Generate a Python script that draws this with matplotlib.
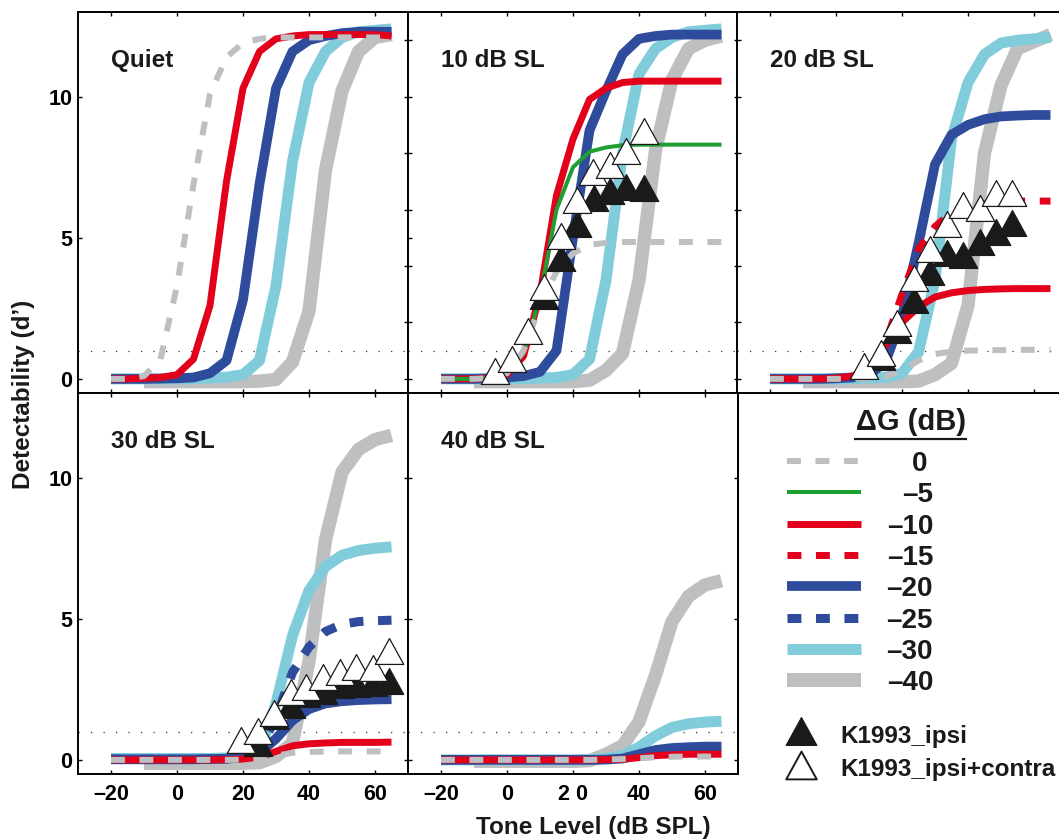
import matplotlib
matplotlib.use('Agg')
import matplotlib.pyplot as plt
from matplotlib.path import Path

plt.rcParams['font.family'] = ['Liberation Sans', 'DejaVu Sans']
plt.rcParams['font.weight'] = 'bold'

# ---------------- data ----------------
LEVELS = [-20, -15, -10, -5, 0, 5, 10, 15, 20, 25, 30, 35, 40, 45, 50, 55, 60, 65]
LEVELS_40 = [-10, -5, 0, 5, 10, 15, 20, 25, 30, 35, 40, 45, 50, 55, 60, 65]

# Quiet
quiet_dG0 = [0, 0, 0.1, 0.7, 3.3, 6.9, 10.1, 11.4, 11.9, 12.05, 12.1, 12.1, 12.1, 12.1, 12.1, 12.1, 12.1, 12.1]
quiet_dG10 = [0, 0, 0.02, 0.05, 0.15, 0.7, 2.6, 7.0, 10.3, 11.6, 12.05, 12.15, 12.2, 12.2, 12.2, 12.2, 12.2, 12.15]
quiet_dG20 = [0, 0, 0, 0.01, 0.02, 0.05, 0.2, 0.65, 2.8, 6.9, 10.3, 11.6, 12.0, 12.15, 12.25, 12.3, 12.3, 12.3]
quiet_dG30 = [0, 0, 0, 0, 0, 0.01, 0.03, 0.06, 0.15, 0.65, 3.3, 7.7, 10.5, 11.6, 12.1, 12.3, 12.35, 12.4]
quiet_dG40 = [-0.1, -0.1, -0.1, -0.1, -0.1, -0.1, -0.1, -0.08, -0.02, 0.6, 2.4, 7.4, 10.2, 11.6, 12.1, 12.2]

# 10 dB SL
sl10_dG0 = [0, 0, 0, 0.03, 0.2, 1.0, 2.6, 3.8, 4.45, 4.75, 4.82, 4.85, 4.85, 4.85, 4.85, 4.85, 4.85, 4.85]
sl10_dG5 = [0, 0, 0, 0.03, 0.2, 0.9, 2.9, 6.0, 7.5, 8.05, 8.2, 8.28, 8.3, 8.3, 8.3, 8.3, 8.3, 8.3]
sl10_dG10 = [0, 0, 0, 0.03, 0.15, 0.8, 3.0, 6.5, 8.5, 9.9, 10.3, 10.5, 10.55, 10.55, 10.55, 10.55, 10.55, 10.55]
sl10_dG20 = [0, 0, 0, 0.02, 0.05, 0.1, 0.25, 1.0, 5.0, 8.8, 10.2, 11.5, 12.05, 12.15, 12.2, 12.2, 12.2, 12.2]
sl10_dG30 = [0, 0, 0, 0, 0, 0.01, 0.03, 0.05, 0.15, 0.7, 3.5, 8.0, 10.8, 11.7, 12.1, 12.3, 12.35, 12.4]
sl10_dG40 = [-0.1, -0.1, -0.1, -0.1, -0.1, -0.1, -0.1, -0.05, 0.3, 0.9, 3.5, 8.1, 10.6, 11.7, 12.0, 12.15]
sl10_ipsi_x = [11.2, 16.3, 21.3, 26.3, 31.3, 36.2, 41.4]
sl10_ipsi_y = [2.95, 4.3, 5.5, 6.4, 6.65, 6.8, 6.75]
sl10_both_x = [-3.6, 1.6, 6.3, 11.2, 16.3, 21.3, 26.2, 31.3, 36.2, 41.4]
sl10_both_y = [0.29, 0.71, 1.71, 3.24, 5.08, 6.33, 7.32, 7.57, 8.09, 8.8]

# 20 dB SL
sl20_dG0 = [0, 0, 0, 0, 0, 0, 0.02, 0.08, 0.3, 0.65, 0.88, 0.97, 1.0, 1.02, 1.02, 1.03, 1.03, 1.03]
sl20_dG10 = [0, 0, 0, 0, 0.02, 0.1, 0.35, 1.2, 2.0, 2.55, 2.9, 3.05, 3.13, 3.17, 3.19, 3.2, 3.2, 3.2]
sl20_dG15 = [0, 0, 0, 0, 0.02, 0.1, 0.35, 1.3, 3.0, 4.6, 5.4, 5.9, 6.1, 6.2, 6.25, 6.3, 6.3, 6.3]
sl20_dG20 = [0, 0, 0, 0, 0.02, 0.05, 0.15, 0.6, 2.2, 4.8, 7.6, 8.65, 9.0, 9.2, 9.3, 9.33, 9.35, 9.35]
sl20_dG30 = [0, 0, 0, 0, 0, 0.01, 0.03, 0.05, 0.2, 0.95, 3.5, 8.5, 10.5, 11.5, 11.9, 12.0, 12.05, 12.1]
sl20_dG40 = [-0.1, -0.1, -0.1, -0.1, -0.1, -0.1, -0.1, -0.08, 0.15, 0.55, 2.6, 8.0, 10.4, 11.7, 11.95, 12.2]
sl20_ipsi_x = [13.5, 18.6, 23.5, 28.6, 33.5, 38.5, 43.6, 48.5, 53.4]
sl20_ipsi_y = [0.77, 1.75, 2.8, 3.8, 4.47, 4.39, 4.85, 5.21, 5.51]
sl20_both_x = [8.4, 13.5, 18.6, 23.5, 28.6, 33.5, 38.5, 43.6, 48.5, 53.4]
sl20_both_y = [0.44, 0.91, 1.97, 3.57, 4.61, 5.48, 6.17, 6.04, 6.59, 6.59]

# 30 dB SL
sl30_dG0 = [0, 0, 0, 0, 0, 0, 0, 0, 0.01, 0.05, 0.15, 0.25, 0.28, 0.3, 0.3, 0.3, 0.3, 0.3]
sl30_dG10 = [0, 0, 0, 0, 0, 0, 0, 0.01, 0.03, 0.1, 0.3, 0.5, 0.57, 0.6, 0.62, 0.62, 0.62, 0.63]
sl30_dG20 = [0.02, 0.02, 0.02, 0.02, 0.02, 0.02, 0.03, 0.04, 0.1, 0.25, 0.75, 1.4, 1.8, 2.0, 2.08, 2.12, 2.14, 2.15]
sl30_dG25 = [0.02, 0.02, 0.02, 0.02, 0.02, 0.02, 0.03, 0.04, 0.1, 0.35, 1.5, 3.1, 4.0, 4.55, 4.8, 4.9, 4.93, 4.95]
sl30_dG30 = [0.05, 0.05, 0.05, 0.05, 0.05, 0.05, 0.05, 0.07, 0.12, 0.3, 2.0, 4.4, 6.0, 6.85, 7.25, 7.42, 7.5, 7.55]
sl30_dG40 = [-0.12, -0.12, -0.12, -0.12, -0.12, -0.12, -0.12, -0.1, 0.12, 0.6, 3.5, 7.8, 10.2, 11.0, 11.35, 11.5]
sl30_ipsi_x = [24.4, 29.5, 34.4, 39.2, 44.3, 49.5, 54.2, 59.5, 64.2]
sl30_ipsi_y = [0.6, 1.55, 1.95, 2.35, 2.45, 2.65, 2.7, 2.72, 2.8]
sl30_both_x = [19.5, 24.4, 29.5, 34.4, 39.2, 44.3, 49.5, 54.2, 59.5, 64.2]
sl30_both_y = [0.71, 1.03, 1.65, 2.42, 2.6, 2.95, 3.13, 3.3, 3.26, 3.86]

# 40 dB SL
sl40_dG0 = [0, 0, 0, 0, 0, 0, 0, 0, 0, 0, 0.01, 0.03, 0.06, 0.09, 0.11, 0.12, 0.12, 0.12]
sl40_dG10 = [0, 0, 0, 0, 0, 0, 0, 0, 0, 0, 0.01, 0.02, 0.08, 0.15, 0.18, 0.2, 0.2, 0.2]
sl40_dG20 = [0, 0, 0, 0, 0, 0, 0, 0, 0, 0, 0.01, 0.05, 0.2, 0.35, 0.42, 0.45, 0.47, 0.47]
sl40_dG30 = [0, 0, 0, 0, 0, 0, 0, 0, 0, 0.01, 0.05, 0.15, 0.45, 0.85, 1.15, 1.28, 1.34, 1.37]
sl40_dG40 = [-0.05, -0.05, -0.05, -0.05, -0.05, -0.05, -0.05, -0.03, 0.2, 0.5, 1.35, 3.0, 4.9, 5.8, 6.2, 6.35]

PANEL_TITLES = ['Quiet', '10 dB SL', '20 dB SL', '30 dB SL', '40 dB SL']
GAINS = ['0', '-5', '-10', '-15', '-20', '-25', '-30', '-40']
GAIN_LABELS = ['0', '\u20135', '\u201310', '\u201315', '\u201320', '\u201325', '\u201330', '\u201340']
XTICKS = [-20, 0, 20, 40, 60]
XTICKLABELS = ['\u201320', '0', '20', '40', '60']
XTICKLABELS_MID = ['\u201320', '0', '2 0', '40', '60']
YTICKS = [0, 5, 10]
YTICKS_MINOR = [0, 2, 4, 6, 8, 10, 12]
CRIT = 1.0

panels = [
    {'0': quiet_dG0, '-10': quiet_dG10, '-20': quiet_dG20, '-30': quiet_dG30, '-40': quiet_dG40},
    {'0': sl10_dG0, '-5': sl10_dG5, '-10': sl10_dG10, '-20': sl10_dG20, '-30': sl10_dG30, '-40': sl10_dG40},
    {'0': sl20_dG0, '-10': sl20_dG10, '-15': sl20_dG15, '-20': sl20_dG20, '-30': sl20_dG30, '-40': sl20_dG40},
    {'0': sl30_dG0, '-10': sl30_dG10, '-20': sl30_dG20, '-25': sl30_dG25, '-30': sl30_dG30, '-40': sl30_dG40},
    {'0': sl40_dG0, '-10': sl40_dG10, '-20': sl40_dG20, '-30': sl40_dG30, '-40': sl40_dG40},
]
markers = [
    None,
    (sl10_ipsi_x, sl10_ipsi_y, sl10_both_x, sl10_both_y),
    (sl20_ipsi_x, sl20_ipsi_y, sl20_both_x, sl20_both_y),
    (sl30_ipsi_x, sl30_ipsi_y, sl30_both_x, sl30_both_y),
    None,
]

# ---------------- styles ----------------
GRAY = '#BEBFC1'
GREEN = '#1F9E34'
RED = '#E2001A'
BLUE = '#2F4B9B'
CYAN = '#80CCDB'
BLACK = '#1A1A1A'

def dashed(on, off, lw):
    return (0, (on / lw, off / lw))

STYLE = {
    '0': dict(color=GRAY, lw=4.3, ls=dashed(10, 10.5, 4.3)),
    '-5': dict(color=GREEN, lw=2.9, ls='-'),
    '-10': dict(color=RED, lw=5.0, ls='-'),
    '-15': dict(color=RED, lw=5.0, ls=dashed(10, 10.5, 5.0)),
    '-20': dict(color=BLUE, lw=7.0, ls='-'),
    '-25': dict(color=BLUE, lw=6.5, ls=dashed(10, 10.5, 6.5)),
    '-30': dict(color=CYAN, lw=7.9, ls='-'),
    '-40': dict(color=GRAY, lw=9.6, ls='-'),
}
DRAW_ORDER = ['-40', '-30', '-20', '-25', '-10', '-15', '-5', '0']
TRI = Path([(0, 1), (-1.1, -1), (1.1, -1), (0, 1)],
           [Path.MOVETO, Path.LINETO, Path.LINETO, Path.CLOSEPOLY])
MS = 20.5

W, H = 1059, 839
fig = plt.figure(figsize=(W / 100, H / 100), dpi=100)

def rect(x0, ytop, w, h):
    return [x0 / W, 1 - (ytop + h) / H, w / W, h / H]

COL_X = [78, 408, 737]
ROW_Y = [12, 393]
PW, PH = 330, 381

positions = [(0, 0), (0, 1), (0, 2), (1, 0), (1, 1)]
left_ticks = [YTICKS, [0, 2, 4, 5, 6, 8, 10, 12], YTICKS_MINOR, YTICKS, YTICKS]
right_ticks = [YTICKS_MINOR, YTICKS_MINOR, [], YTICKS, YTICKS]

for i, (r, c) in enumerate(positions):
    ax = fig.add_axes(rect(COL_X[c], ROW_Y[r], PW, PH))
    ax.set_xlim(-30, 70)
    ax.set_ylim(-0.5, 13)
    ax.axhline(CRIT, color='#333333', lw=0.9, ls=(0, (1, 9)), zorder=1)
    data = panels[i]
    for g in DRAW_ORDER:
        if g in data:
            st = STYLE[g]
            xs = LEVELS_40 if g == '-40' else LEVELS
            ax.plot(xs, data[g], color=st['color'], lw=st['lw'], ls=st['ls'],
                    solid_capstyle='butt', dash_capstyle='butt',
                    solid_joinstyle='round', zorder=2)
    if markers[i] is not None:
        ix, iy, bx, by = markers[i]
        ax.plot(ix, iy, ls='none', marker=TRI, ms=MS, mfc=BLACK, mec=BLACK,
                mew=0.9, zorder=4)
        ax.plot(bx, by, ls='none', marker=TRI, ms=MS, mfc='white', mec=BLACK,
                mew=0.9, zorder=5)
    ax.text(-20, 11.05, PANEL_TITLES[i], fontsize=17.5, fontweight='bold',
            ha='left', va='baseline', color=BLACK)
    # ticks
    ax.set_xticks(XTICKS)
    ax.tick_params(axis='x', which='both', direction='in', top=True, bottom=True,
                   length=2.6, width=1.0, pad=7, labelsize=15.5)
    if r == 1:
        ax.set_xticklabels(XTICKLABELS_MID if c == 1 else XTICKLABELS)
    else:
        ax.set_xticklabels([])
    ax.set_yticks(left_ticks[i])
    ax.tick_params(axis='y', direction='in', left=True, right=False,
                   length=2.6, width=1.0, pad=4, labelsize=15.5)
    if c == 0:
        ax.set_yticklabels([str(t) for t in left_ticks[i]])
    else:
        ax.set_yticklabels([])
    if right_ticks[i]:
        sec = ax.secondary_yaxis('right')
        sec.set_yticks(right_ticks[i])
        sec.set_yticklabels([])
        sec.tick_params(direction='in', length=2.6, width=1.0)
        sec.spines['right'].set_linewidth(1.4)
    for s in ax.spines.values():
        s.set_linewidth(1.4)

# ---------------- legend panel ----------------
lg = fig.add_axes(rect(737, 393, PW, PH))
lg.set_xlim(737, 737 + PW)
lg.set_ylim(393 + PH, 393)
lg.axis('off')
lg.text(911, 430, '\u0394G (dB)', fontsize=21, fontweight='bold', ha='center',
        va='baseline', color=BLACK)
lg.plot([854, 967], [439, 439], color=BLACK, lw=1.6, solid_capstyle='butt')
for k, g in enumerate(GAINS):
    yy = 461 + k * 31.3
    st = STYLE[g]
    lw = st['lw'] if g != '-40' else 10.0
    lg.plot([787, 861], [yy, yy], color=st['color'], lw=lw, ls=st['ls'],
            solid_capstyle='butt', dash_capstyle='butt')
    lg.text(927 if g == '0' else 933, yy + 10, GAIN_LABELS[k], fontsize=20,
            fontweight='bold', ha='right', va='baseline', color=BLACK)
lg.plot([801], [731], ls='none', marker=TRI, ms=22, mfc=BLACK, mec=BLACK,
        mew=0.9, clip_on=False)
lg.plot([801], [764.5], ls='none', marker=TRI, ms=22, mfc='white', mec=BLACK,
        mew=1.4, clip_on=False)
lg.text(840, 742.7, 'K1993_ipsi', fontsize=17.5, fontweight='bold', ha='left',
        va='baseline', color=BLACK)
lg.text(840, 776, 'K1993_ipsi+contra', fontsize=17.5, fontweight='bold', ha='left',
        va='baseline', color=BLACK)

fig.text(24 / W, 1 - 394 / H, 'Detectability (d\u2019)', rotation=90, fontsize=17.5,
         fontweight='bold', ha='center', va='center', color=BLACK)
fig.text(593 / W, 1 - 834 / H, 'Tone Level (dB SPL)', fontsize=17.5,
         fontweight='bold', ha='center', va='baseline', color=BLACK)

fig.savefig('out.png', dpi=100)
